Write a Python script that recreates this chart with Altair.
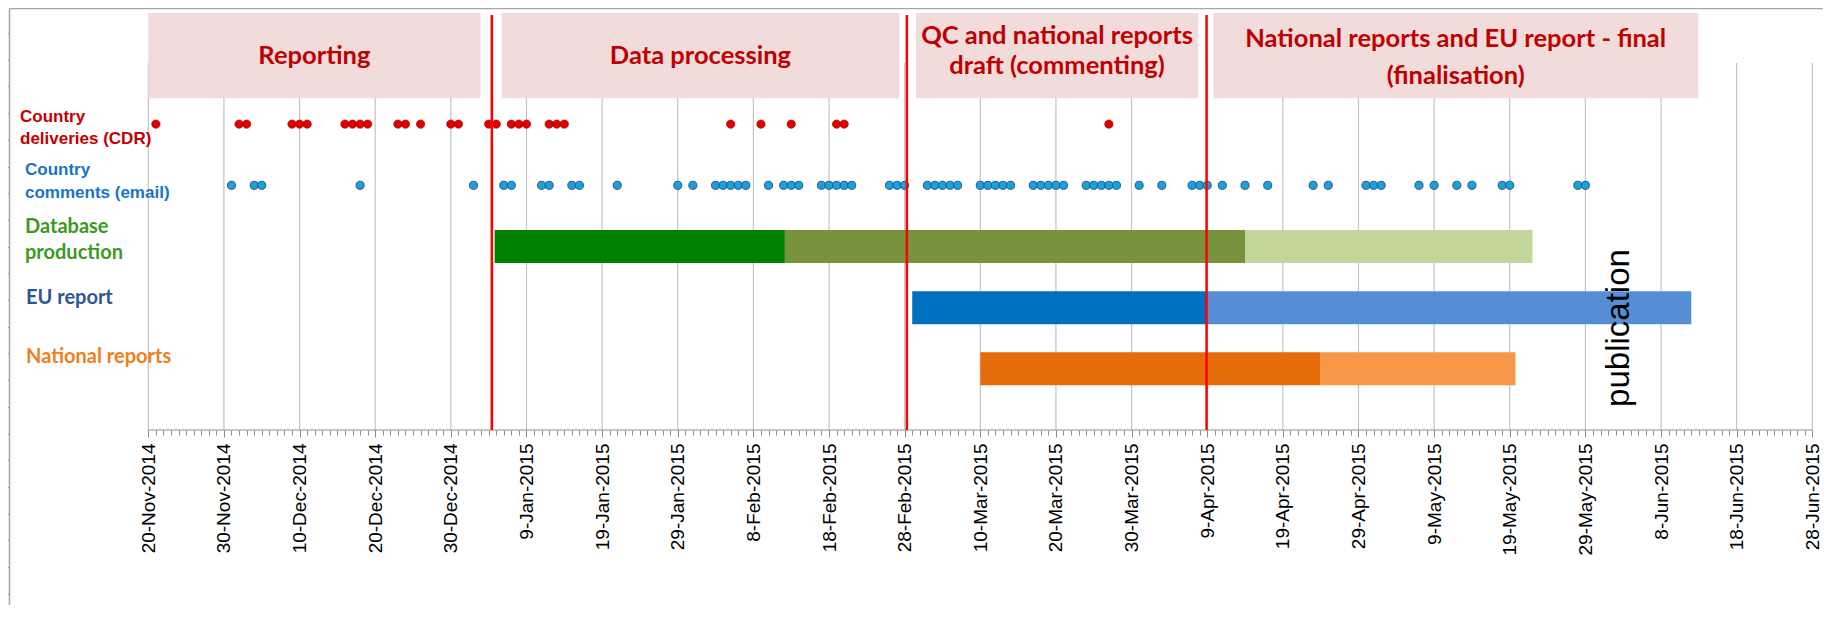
import altair as alt
import pandas as pd

# ---------------- data ----------------
axis_start = "2014-11-20"
axis_end = "2015-06-28"

grid_dates = ["2014-11-20", "2014-11-30", "2014-12-10", "2014-12-20", "2014-12-30",
              "2015-01-09", "2015-01-19", "2015-01-29", "2015-02-08", "2015-02-18",
              "2015-02-28", "2015-03-10", "2015-03-20", "2015-03-30", "2015-04-09",
              "2015-04-19", "2015-04-29", "2015-05-09", "2015-05-19", "2015-05-29",
              "2015-06-08", "2015-06-18", "2015-06-28"]

cdr_dates = ["2014-11-21", "2014-12-02", "2014-12-03", "2014-12-09", "2014-12-10",
             "2014-12-11", "2014-12-16", "2014-12-17", "2014-12-18", "2014-12-19",
             "2014-12-23", "2014-12-24", "2014-12-26", "2014-12-30", "2014-12-31",
             "2015-01-04", "2015-01-05", "2015-01-07", "2015-01-08", "2015-01-09",
             "2015-01-12", "2015-01-13", "2015-01-14", "2015-02-05", "2015-02-09",
             "2015-02-13", "2015-02-19", "2015-02-20", "2015-03-27"]

comment_dates = ["2014-12-01", "2014-12-04", "2014-12-05", "2014-12-18", "2015-01-02",
                 "2015-01-06", "2015-01-07", "2015-01-11", "2015-01-12", "2015-01-15",
                 "2015-01-16", "2015-01-21", "2015-01-29", "2015-01-31", "2015-02-03",
                 "2015-02-04", "2015-02-05", "2015-02-06", "2015-02-07", "2015-02-10",
                 "2015-02-12", "2015-02-13", "2015-02-14", "2015-02-17", "2015-02-18",
                 "2015-02-19", "2015-02-20", "2015-02-21", "2015-02-26", "2015-02-27",
                 "2015-02-28", "2015-03-03", "2015-03-04", "2015-03-05", "2015-03-06",
                 "2015-03-07", "2015-03-10", "2015-03-11", "2015-03-12", "2015-03-13",
                 "2015-03-14", "2015-03-17", "2015-03-18", "2015-03-19", "2015-03-20",
                 "2015-03-21", "2015-03-24", "2015-03-25", "2015-03-26", "2015-03-27",
                 "2015-03-28", "2015-03-31", "2015-04-03", "2015-04-07", "2015-04-08",
                 "2015-04-09", "2015-04-11", "2015-04-14", "2015-04-17", "2015-04-23",
                 "2015-04-25", "2015-04-30", "2015-05-01", "2015-05-02", "2015-05-07",
                 "2015-05-09", "2015-05-12", "2015-05-14", "2015-05-18", "2015-05-19",
                 "2015-05-28", "2015-05-29"]

phase_names = ["Reporting",
               "Data processing",
               "QC and national reports\ndraft (commenting)",
               "National reports and EU report - final\n(finalisation)"]
phase_starts = ["2014-11-20T00:00:00Z", "2015-01-05T17:00:00Z",
                "2015-03-01T12:00:00Z", "2015-04-09T19:00:00Z"]
phase_ends = ["2015-01-02T22:00:00Z", "2015-02-27T07:00:00Z",
              "2015-04-07T19:00:00Z", "2015-06-12T22:00:00Z"]

milestone_dates = ["2015-01-04T10:00:00Z", "2015-02-28T07:00:00Z", "2015-04-08T22:00:00Z"]

row_names = ["Country deliveries (CDR)", "Country comments (email)",
             "Database production", "EU report", "National reports"]
row_label_text = ["Country\ndeliveries (CDR)", "Country\ncomments (email)",
                  "Database\nproduction", "EU report", "National reports"]

bar_rows = ["Database production", "Database production", "Database production",
            "EU report", "EU report", "National reports", "National reports"]
bar_segments = ["db1", "db2", "db3", "eu1", "eu2", "nr1", "nr2"]
bar_starts = ["2015-01-04T19:00:00Z", "2015-02-12T04:00:00Z", "2015-04-14T00:00:00Z",
              "2015-03-01T00:00:00Z", "2015-04-08T20:00:00Z",
              "2015-03-10T00:00:00Z", "2015-04-24T00:00:00Z"]
bar_ends = ["2015-02-12T04:00:00Z", "2015-04-14T00:00:00Z", "2015-05-22T00:00:00Z",
            "2015-04-08T20:00:00Z", "2015-06-12T00:00:00Z",
            "2015-04-24T00:00:00Z", "2015-05-19T18:00:00Z"]

publication_date = ["2015-06-02T12:00:00Z"]
publication_text = ["publication"]

# ---------------- layout & style ----------------
ROW_LANE = {"Country deliveries (CDR)": 5, "Country comments (email)": 4,
            "Database production": 3, "EU report": 2, "National reports": 1}
ROW_COLORS = {"Country deliveries (CDR)": "#c40000", "Country comments (email)": "#1874c8",
              "Database production": "#3a9a22", "EU report": "#2f5597",
              "National reports": "#ef7f1a"}
ROW_LABEL_LANES = [[5.117, 4.757], [4.250, 3.874], [3.319, 2.894], [2.158], [1.193]]
ROW_LABEL_X = [11, 16, 16, 17, 17]
ROW_LABEL_FONT = [("Liberation Sans", 17), ("Liberation Sans", 17),
                  ("Lato", 20), ("Lato", 20), ("Lato", 20)]
SEG_COLORS = ["#008000", "#77933c", "#c3d69b", "#0070c0", "#558ed5", "#e46c0a", "#f79646"]
PHASE_LINE_LANES = [[6.114], [6.114], [6.441, 5.951], [6.400, 5.788]]
GRID_TOP, AXIS_Y = 6.0, 0.0
BOX_TOP, BOX_BOTTOM = 6.817, 5.423
MILESTONE_TOP = 6.784
PUB_LANE = 1.667

W, H = 1814, 422            # plot area (date axis at its bottom)
FRAME_H = 597               # height of the chart-area frame
PX_PER_DAY = 7.5636
X0_PX = 139.3               # position of the first date inside the plot
PX_PER_LANE = 61.17
FRAME_COLOR = "#a6a6a6"
AXIS_COLOR = "#8c8c8c"
DAY_MS = 86400000


def ms(s):
    t = pd.Timestamp(s)
    if t.tzinfo is None:
        t = t.tz_localize("UTC")
    return int(t.value // 10**6)


start_ms = ms(axis_start)
x_lo = start_ms - X0_PX / PX_PER_DAY * DAY_MS
x_hi = start_ms + (W - X0_PX) / PX_PER_DAY * DAY_MS
y_hi = H / PX_PER_LANE
y_lo = (H - FRAME_H) / PX_PER_LANE

daily_ms = [int(t.value // 10**6) for t in pd.date_range(axis_start, axis_end, freq="D", tz="UTC")]
major_ms = [ms(d) for d in grid_dates]
top_tick_px = [78.3 + 82.8 * k for k in range(30) if 78.3 + 82.8 * k < W]
top_tick_ms = [x_lo + p / PX_PER_DAY * DAY_MS for p in top_tick_px]
left_tick_px = [25 + 26.7 * k for k in range(30) if 25 + 26.7 * k < FRAME_H]
left_tick_lanes = [(H - p) / PX_PER_LANE for p in left_tick_px]

x_scale = alt.Scale(type="utc", domain=[x_lo, x_hi], nice=False, padding=0)
y_scale = alt.Scale(domain=[y_lo, y_hi], range=[FRAME_H, 0], nice=False, zero=False, padding=0)

major_axis = alt.Axis(
    orient="bottom", values=major_ms, title=None, grid=False, domain=False,
    labelExpr="utcFormat(datum.value, '%-d-%b-%Y')",
    labelAngle=270, labelAlign="right", labelBaseline="middle",
    labelFont="Liberation Sans", labelFontSize=19, labelColor="#000000",
    labelPadding=6, labelOverlap=False, labelFlush=False, labelBound=False,
    tickSize=7, tickColor=AXIS_COLOR, tickWidth=1)
minor_axis = alt.Axis(
    orient="bottom", values=daily_ms, title=None, grid=False, domain=False,
    labels=False, tickSize=5, tickColor=AXIS_COLOR, tickWidth=1)
top_axis = alt.Axis(
    orient="top", values=top_tick_ms, title=None, grid=False, labels=False,
    domain=True, domainColor=FRAME_COLOR, domainWidth=1.5,
    tickSize=3, tickColor=FRAME_COLOR)
left_axis = alt.Axis(
    orient="left", values=left_tick_lanes, title=None, grid=False, labels=False,
    domain=True, domainColor=FRAME_COLOR, domainWidth=1.5,
    tickSize=3, tickColor=FRAME_COLOR)


def X(field, axis=None):
    return alt.X(field, type="temporal", scale=x_scale, axis=axis)


def Y(field, axis=None):
    return alt.Y(field, type="quantitative", scale=y_scale, axis=axis)


# ---------------- tables ----------------
grid_df = pd.DataFrame({"date": grid_dates, "top": GRID_TOP, "bottom": AXIS_Y})
axis_df = pd.DataFrame({"start": [axis_start], "end": [axis_end], "lane": [AXIS_Y]})
phase_df = pd.DataFrame({"phase": phase_names, "start": phase_starts, "end": phase_ends,
                         "top": BOX_TOP, "bottom": BOX_BOTTOM})
phase_mid = (pd.to_datetime(phase_df["start"]) +
             (pd.to_datetime(phase_df["end"]) - pd.to_datetime(phase_df["start"])) / 2)
phase_df["mid"] = phase_mid.dt.strftime("%Y-%m-%dT%H:%M:%SZ")
ptext_rows = []
for i, name in enumerate(phase_names):
    for j, line in enumerate(name.split("\n")):
        ptext_rows.append({"line": line, "mid": phase_df["mid"][i],
                           "lane": PHASE_LINE_LANES[i][j]})
ptext_df = pd.DataFrame(ptext_rows)

bars_df = pd.DataFrame({"row": bar_rows, "segment": bar_segments,
                        "start": bar_starts, "end": bar_ends})
bars_df["lane"] = bars_df["row"].map(ROW_LANE)
cdr_df = pd.DataFrame({"date": cdr_dates, "lane": ROW_LANE["Country deliveries (CDR)"]})
com_df = pd.DataFrame({"date": comment_dates, "lane": ROW_LANE["Country comments (email)"]})
ms_df = pd.DataFrame({"date": milestone_dates, "top": MILESTONE_TOP, "bottom": AXIS_Y})
pub_df = pd.DataFrame({"date": publication_date, "text": publication_text, "lane": PUB_LANE})

# ---------------- layers ----------------
grid = alt.Chart(grid_df).mark_rule(color="#c4c4c4", strokeWidth=1.2).encode(
    x=X("date", axis=major_axis), y=Y("top", axis=left_axis), y2="bottom")

axis_line = alt.Chart(axis_df).mark_rule(color=AXIS_COLOR, strokeWidth=1).encode(
    x=X("start", axis=minor_axis), x2="end", y=Y("lane"))

boxes = alt.Chart(phase_df).mark_rect(color="#f2dcdb").encode(
    x=X("start", axis=top_axis), x2="end", y=Y("top"), y2="bottom")

box_text = alt.Chart(ptext_df).mark_text(
    font="Lato", fontWeight="bold", fontSize=25.5, color="#c00000",
    align="center", baseline="middle").encode(
    x=X("mid"), y=Y("lane"), text="line")

bars = alt.Chart(bars_df).mark_bar(size=33).encode(
    x=X("start"), x2="end", y=Y("lane"),
    color=alt.Color("segment:N", scale=alt.Scale(domain=bar_segments, range=SEG_COLORS),
                    legend=None))

red_dots = alt.Chart(cdr_df).mark_point(
    filled=True, size=70, color="#e00000", stroke="#9a0000", strokeWidth=0.6, opacity=1).encode(
    x=X("date"), y=Y("lane"))

blue_dots = alt.Chart(com_df).mark_point(
    filled=True, size=66, color="#1ca0dc", stroke="#1f4e79", strokeWidth=0.9, opacity=1).encode(
    x=X("date"), y=Y("lane"))

milestones = alt.Chart(ms_df).mark_rule(color="#ff0000", strokeWidth=2.5).encode(
    x=X("date"), y=Y("top"), y2="bottom")

pub = alt.Chart(pub_df).mark_text(
    font="Liberation Sans", fontSize=33, color="#000000", angle=270,
    align="center", baseline="middle").encode(
    x=X("date"), y=Y("lane"), text="text")

label_layers = []
for i, (row, txt) in enumerate(zip(row_names, row_label_text)):
    lines = txt.split("\n")
    df = pd.DataFrame({"line": lines, "lane": ROW_LABEL_LANES[i][:len(lines)]})
    font, size = ROW_LABEL_FONT[i]
    label_layers.append(
        alt.Chart(df).mark_text(font=font, fontWeight="bold", fontSize=size,
                                color=ROW_COLORS[row], align="left", baseline="middle").encode(
            x=alt.value(ROW_LABEL_X[i]), y=Y("lane"), text="line"))

chart = alt.layer(grid, axis_line, boxes, box_text, bars, red_dots, blue_dots, milestones,
                  pub, *label_layers).resolve_axis(
    x="independent", y="independent"
).resolve_scale(
    color="independent"
).properties(
    width=W, height=H, autosize="none",
    padding={"left": 1, "top": 0, "right": 0, "bottom": FRAME_H - H},
).configure_view(strokeWidth=0)

chart.save("out.html", embed_options={"renderer": "svg", "actions": False})
